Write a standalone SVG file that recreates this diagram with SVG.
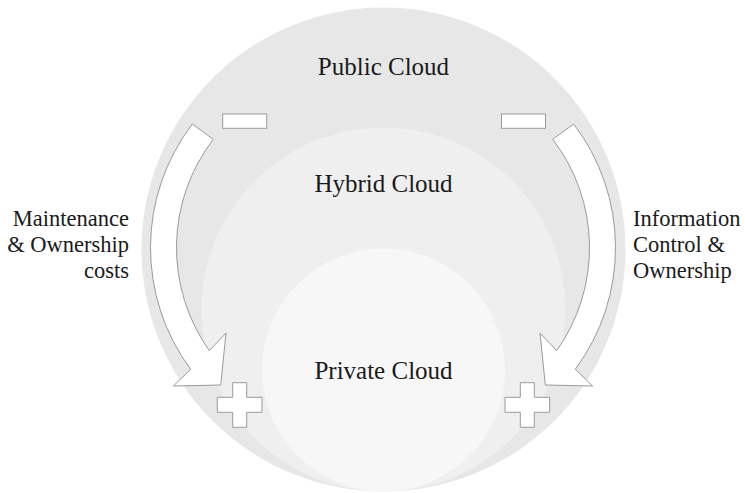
<svg xmlns="http://www.w3.org/2000/svg" width="745" height="493" viewBox="0 0 745 493">
<style>
  text { font-family: "Liberation Serif", "Times New Roman", serif; fill: #1a1a1a; }
  .lbl { font-size: 25px; text-anchor: middle; }
  .side { font-size: 22.5px; }
  .shape { fill: #ffffff; stroke: #9a9a9a; stroke-width: 1; }
</style>
<rect width="745" height="493" fill="#ffffff"/>
<g id="public-cloud">
  <circle cx="383.5" cy="249.5" r="242" fill="#e7e7e7"/>
  <text class="lbl" x="383.5" y="75">Public Cloud</text>
</g>
<g id="hybrid-cloud">
  <circle cx="383.5" cy="309.5" r="182" fill="#efefef"/>
  <text class="lbl" x="383.5" y="192">Hybrid Cloud</text>
</g>
<g id="private-cloud">
  <circle cx="383.5" cy="370" r="121.5" fill="#f7f7f7"/>
  <text class="lbl" x="383.5" y="378.5">Private Cloud</text>
</g>
<g id="connectors">
  <path id="arrow-left" class="shape" d="M192.3,124 L213.3,139.3 A178,178 0 0 0 209.3,350.7 L226,333 L220.7,385 L173.3,386 L190.7,369.3 A204,204 0 0 1 192.3,124 Z"/>
  <g transform="translate(766,0) scale(-1,1)">
    <path id="arrow-right" class="shape" d="M192.3,124 L213.3,139.3 A178,178 0 0 0 209.3,350.7 L226,333 L220.7,385 L173.3,386 L190.7,369.3 A204,204 0 0 1 192.3,124 Z"/>
  </g>
</g>
<g id="minus-left"><rect class="shape" x="222.7" y="114" width="44" height="14.3"/></g>
<g id="minus-right"><rect class="shape" x="501.5" y="114" width="44" height="14.3"/></g>
<g id="plus-left"><path class="shape" d="M232.7,382.7 H246.7 V397.3 H262 V412.3 H246.7 V427.3 H232.7 V412.3 H217.3 V397.3 H232.7 Z"/></g>
<g id="plus-right"><path class="shape" d="M520.3,382.7 H534.3 V397.3 H549.6 V412.3 H534.3 V427.3 H520.3 V412.3 H505 V397.3 H520.3 Z"/></g>
<g id="label-left">
  <text class="side" text-anchor="end" x="129" y="226">Maintenance</text>
  <text class="side" text-anchor="end" x="129" y="252">&amp; Ownership</text>
  <text class="side" text-anchor="end" x="129" y="278">costs</text>
</g>
<g id="label-right">
  <text class="side" x="633" y="226">Information</text>
  <text class="side" x="633" y="252">Control &amp;</text>
  <text class="side" x="633" y="278">Ownership</text>
</g>
</svg>
